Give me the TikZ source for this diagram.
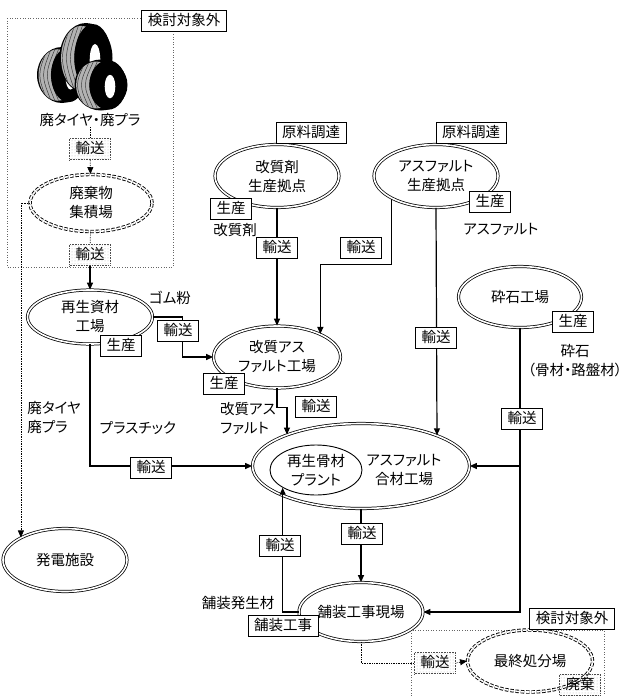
\documentclass[tikz,border=0pt]{standalone}
\usepackage{fontspec}
\setmainfont{Noto Sans CJK JP}[RawFeature={+palt}]
\usetikzlibrary{shapes.geometric,arrows.meta,patterns,calc}

% one tyre seen at an angle: tread band on the left, sidewall with its hole on the right
\newcommand\drawtyre[4]{%
  \begin{scope}[shift={(#1,#2)}]
    \fill[black] (0,0) ellipse ({#3} and {#4});
    \begin{scope}
      \clip (-0.18*#3,0) ellipse ({0.76*#3} and {0.92*#4});
      \fill[gray!60] (-0.18*#3,0) ellipse ({0.76*#3} and {0.92*#4});
      \foreach \s in {-0.85,-0.7,-0.55,-0.4,-0.25,-0.1}
        \draw[black!80,line width=0.45pt] (\s*#3,-#4) .. controls (\s*#3-0.45*#3,0) .. (\s*#3,#4);
    \end{scope}
    \fill[black] (0.26*#3,0) ellipse ({0.7*#3} and {0.97*#4});
    \fill[white] (0.34*#3,0.06*#4) ellipse ({0.2*#3} and {0.46*#4});
  \end{scope}}

\begin{document}
\begin{tikzpicture}[x=1pt,y=-1pt,
  font=\fontsize{14.5}{19}\selectfont,
  wall/.style={ellipse, draw, double, double distance=1.6pt, line width=0.75pt,
    inner sep=0pt, align=center},
  dwall/.style={wall, line width=0.9pt, dash pattern=on 3.5pt off 1.8pt},
  plain/.style={ellipse, draw, line width=0.9pt, inner sep=0pt, align=center},
  tag/.style={draw, fill=white, line width=0.8pt, inner xsep=6pt, inner ysep=3.5pt,
    text height=12pt, text depth=2.5pt},
  shtag/.style={draw=black!70, densely dotted, line width=0.6pt, pattern=dots,
    pattern color=gray!55, inner xsep=6pt, inner ysep=3.5pt,
    text height=12pt, text depth=2.5pt},
  lbl/.style={inner sep=0pt, align=left},
  flow/.style={line width=1.2pt},
  arr/.style={flow, -{Triangle[length=7pt,width=6pt]}},
  dline/.style={densely dotted, line width=0.7pt},
  darr/.style={dline, -{Triangle[length=7pt,width=6pt]}},
  frame/.style={draw=black!60, dotted, line width=0.6pt}]

\useasboundingbox (0,0) rectangle (630,696);

% areas outside the scope of the study
\draw[frame] (7,18) rectangle (173,267);
\draw[frame] (411,696) -- (411,630) -- (604,630) -- (604,696);

% waste tyres
\drawtyre{62}{75}{25}{28}
\drawtyre{86}{58}{26.5}{35}
\drawtyre{101}{85}{26.5}{25.5}
\node[lbl] (tt) at (90,120) {廃タイヤ・廃プラ};

% facilities
\node[dwall, minimum width=122pt, minimum height=57pt] (haiki) at (91,203) {廃棄物\\集積場};
\node[wall, minimum width=125pt, minimum height=54pt] (saisei) at (90,317) {再生資材\\工場};
\node[wall, minimum width=124pt, minimum height=63pt] (hatsuden) at (65,560) {発電施設};
\node[wall, minimum width=124pt, minimum height=63pt] (kaishitsu) at (277,176) {改質剤\\生産拠点};
\node[wall, minimum width=124pt, minimum height=63pt] (aspsrc) at (436,176) {アスファルト\\生産拠点};
\node[wall, minimum width=123pt, minimum height=61pt] (saiseki) at (520,297) {砕石工場};
\node[wall, minimum width=127pt, minimum height=62pt] (kaiasp) at (277,357) {改質アス\\ファルト工場};
\node[wall, minimum width=217pt, minimum height=85pt] (mix) at (361,466) {};
\node[plain, minimum width=92pt, minimum height=50pt] (plant) at (316,470) {再生骨材\\プラント};
\node[lbl, align=center] (mixlbl) at (404,470) {アスファルト\\合材工場};
\node[wall, minimum width=124pt, minimum height=59pt] (hosou) at (361,612) {舗装工事現場};
\node[dwall, minimum width=125pt, minimum height=62pt] (saishu) at (530,661) {最終処分場};

% transport links
\node[shtag] (t1) at (90,149) {輸送};
\node[shtag] (t2) at (90,255) {輸送};
\node[shtag] (t3) at (435,663) {輸送};
\draw[dline] (tt) -- (t1);
\draw[darr] (t1) -- (haiki);
\draw[dline] (haiki) -- (t2);
\draw[arr] (t2) -- (saisei);
\draw[darr] (haiki.west) -| (hatsuden.north west);
\draw[arr] (saisei.east) -- ++(30,0) |- (kaiasp.west);
\draw[arr] (saisei.south) |- (mix.west);
\draw[arr] (kaishitsu.south) -- (kaiasp.north);
\draw[arr] (aspsrc.south west) -- ++(0,66) -| (kaiasp.28);
\draw[arr] (aspsrc.south) -- (mix.22);
\draw[arr] (kaiasp.south) -- ++(0,19) -| (mix.157);
\draw[arr] (saiseki.south) |- (mix.east);
\draw[arr] (saiseki.south) |- (hosou.east);
\draw[arr] (mix.south) -- (hosou.north);
\draw[arr] (hosou.west) -| (plant.208);
\draw[dline] (hosou.south) |- (t3.west);
\draw[darr] (t3.east) -- (saishu.west);

% tags on the links and at the facilities
\node[tag] (m1) at (277,248) {輸送};
\node[tag] (m2) at (361,248) {輸送};
\node[tag] (m3) at (178,331) {輸送};
\node[tag] (m4) at (436,338) {輸送};
\node[tag] (m5) at (316,407) {輸送};
\node[tag] (m6) at (522,419) {輸送};
\node[tag] (m7) at (151,468) {輸送};
\node[tag] (m8) at (362,534) {輸送};
\node[tag] (m9) at (280,546) {輸送};
\node[tag] (r1) at (311,133) {原料調達};
\node[tag] (r2) at (471,133) {原料調達};
\node[tag] (p1) at (231,209) {生産};
\node[tag] (p2) at (490,202) {生産};
\node[tag] (p3) at (121,346) {生産};
\node[tag] (p4) at (224,384) {生産};
\node[tag] (p5) at (573,322) {生産};
\node[tag] (w1) at (283,626) {舗装工事};
\node[shtag] (w2) at (580,685) {廃棄};
\node[tag] (x1) at (184,21) {検討対象外};
\node[tag] (x2) at (572,619) {検討対象外};

% product names
\node[lbl] (g1) at (170,298) {ゴム粉};
\node[lbl] (g2) at (235,230) {改質剤};
\node[lbl] (g3) at (501,229) {アスファルト};
\node[lbl, align=center] (g4) at (575,361) {砕石\\（骨材・路盤材）};
\node[lbl] (g5) at (54,418) {廃タイヤ\\廃プラ};
\node[lbl] (g6) at (138,428) {プラスチック};
\node[lbl] (g7) at (248,418) {改質アス\\ファルト};
\node[lbl] (g8) at (238,603) {舗装発生材};
\end{tikzpicture}
\end{document}
